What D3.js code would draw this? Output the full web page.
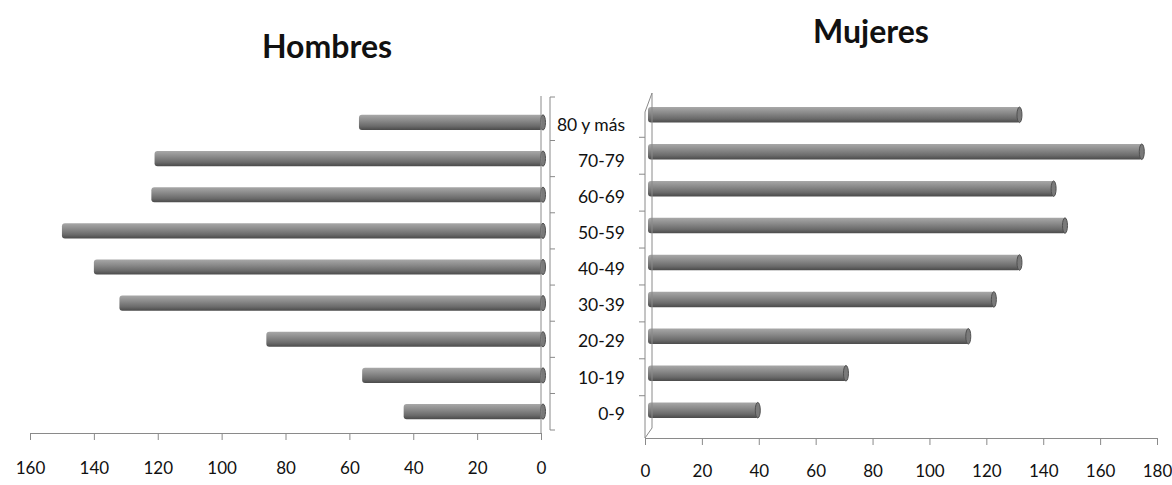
<!DOCTYPE html>
<html>
<head>
<meta charset="utf-8">
<script src="https://cdn.jsdelivr.net/npm/d3@7"></script>
<style>
  body { margin: 0; background: #fff; }
  svg { display: block; }
  text { font-family: Lato, "Open Sans", sans-serif; fill: #111; }
</style>
</head>
<body>
<svg width="1172" height="485"></svg>
<script>
var categories = ["80 y más", "70-79", "60-69", "50-59", "40-49", "30-39", "20-29", "10-19", "0-9"];
var hombres = [57, 121, 122, 150, 140, 132, 86, 56, 43];
var mujeres = [132, 175, 144, 148, 132, 123, 114, 71, 40];
var ticksLeft = [0, 20, 40, 60, 80, 100, 120, 140, 160];
var ticksRight = [0, 20, 40, 60, 80, 100, 120, 140, 160, 180];

var svg = d3.select("svg");

// cylinder-like shading
var grad = svg.append("defs").append("linearGradient")
    .attr("id", "cyl")
    .attr("x1", 0).attr("y1", 0).attr("x2", 0).attr("y2", 1);
grad.append("stop").attr("offset", "0%").attr("stop-color", "#a8a8a8");
grad.append("stop").attr("offset", "35%").attr("stop-color", "#8c8c8c");
grad.append("stop").attr("offset", "75%").attr("stop-color", "#6a6a6a");
grad.append("stop").attr("offset", "100%").attr("stop-color", "#4a4a4a");

var axisColor = "#8a8a8a";

// ---- Hombres (left) ----
var xL = d3.scaleLinear().domain([0, 160]).range([541, 30]);
var yL = d3.scaleBand().domain(categories).range([104, 430]).paddingInner(0.58).paddingOuter(0.3);

var left = svg.append("g");

left.selectAll("rect")
    .data(hombres)
    .enter().append("rect")
    .attr("x", function (d) { return xL(d); })
    .attr("y", function (d, i) { return yL(categories[i]); })
    .attr("width", function (d) { return xL(0) - xL(d) + 2; })
    .attr("height", yL.bandwidth())
    .attr("rx", 3)
    .attr("fill", "url(#cyl)");

left.selectAll("ellipse")
    .data(hombres)
    .enter().append("ellipse")
    .attr("cx", xL(0) + 2)
    .attr("cy", function (d, i) { return yL(categories[i]) + yL.bandwidth() / 2; })
    .attr("rx", 2.5)
    .attr("ry", yL.bandwidth() / 2)
    .attr("fill", "#7a7a7a")
    .attr("stroke", "#505050")
    .attr("stroke-width", 1);

var axL = d3.axisBottom(xL).tickValues(ticksLeft).tickSize(7).tickPadding(22);
left.append("g")
    .attr("transform", "translate(0,433)")
    .call(axL)
    .call(function (g) {
        g.select(".domain").attr("stroke", axisColor);
        g.selectAll(".tick line").attr("stroke", axisColor);
        g.selectAll(".tick text").style("font-size", "17px").attr("fill", "#111");
    });

left.append("line")
    .attr("x1", xL(0)).attr("x2", xL(0))
    .attr("y1", 96).attr("y2", 433)
    .attr("stroke", axisColor);

// category bracket with labels
var bracketX = 550;
var bracket = svg.append("g");
bracket.append("path")
    .attr("d", "M" + (bracketX + 5) + "," + 97 + "H" + bracketX + "V" + yL.range()[1] + "H" + (bracketX + 5))
    .attr("fill", "none")
    .attr("stroke", axisColor);
bracket.selectAll("line")
    .data(categories.slice(1))
    .enter().append("line")
    .attr("x1", bracketX).attr("x2", bracketX + 5)
    .attr("y1", function (d) { return yL(d) - yL.step() * yL.paddingInner() / 2; })
    .attr("y2", function (d) { return yL(d) - yL.step() * yL.paddingInner() / 2; })
    .attr("stroke", axisColor);

svg.append("g").selectAll("text")
    .data(categories)
    .enter().append("text")
    .attr("x", 625)
    .attr("y", function (d) { return yL(d) + yL.bandwidth() / 2 + 2; })
    .attr("dy", "0.35em")
    .attr("text-anchor", "end")
    .style("font-size", "17.5px")
    .text(function (d) { return d; });

// ---- Mujeres (right) ----
var xR = d3.scaleLinear().domain([0, 180]).range([645, 1157]);
var yR = d3.scaleBand().domain(categories).range([96, 429]).paddingInner(0.58).paddingOuter(0.3);

var right = svg.append("g");

right.selectAll("rect")
    .data(mujeres)
    .enter().append("rect")
    .attr("x", xR(0) + 3)
    .attr("y", function (d, i) { return yR(categories[i]); })
    .attr("width", function (d) { return xR(d) - xR(0) - 3; })
    .attr("height", yR.bandwidth())
    .attr("rx", 3)
    .attr("fill", "url(#cyl)");

right.selectAll("ellipse")
    .data(mujeres)
    .enter().append("ellipse")
    .attr("cx", function (d) { return xR(d) - 1; })
    .attr("cy", function (d, i) { return yR(categories[i]) + yR.bandwidth() / 2; })
    .attr("rx", 2.5)
    .attr("ry", yR.bandwidth() / 2)
    .attr("fill", "#7a7a7a")
    .attr("stroke", "#505050")
    .attr("stroke-width", 1);

var axR = d3.axisBottom(xR).tickValues(ticksRight).tickSize(7).tickPadding(20);
right.append("g")
    .attr("transform", "translate(0,438)")
    .call(axR)
    .call(function (g) {
        g.select(".domain").attr("stroke", axisColor);
        g.selectAll(".tick line").attr("stroke", axisColor);
        g.selectAll(".tick text").style("font-size", "17px").attr("fill", "#111");
    });

// 3D wall edge
right.append("path")
    .attr("d", "M645,438 L652,428 V93 L645,112 V438")
    .attr("fill", "none")
    .attr("stroke", axisColor);
right.selectAll("line.cat")
    .data(categories.slice(1))
    .enter().append("line")
    .attr("class", "cat")
    .attr("x1", 639).attr("x2", 645)
    .attr("y1", function (d) { return yR(d) - yR.step() * yR.paddingInner() / 2 + 4; })
    .attr("y2", function (d) { return yR(d) - yR.step() * yR.paddingInner() / 2 + 4; })
    .attr("stroke", axisColor);

// titles
svg.append("text")
    .attr("x", 327).attr("y", 58)
    .attr("text-anchor", "middle")
    .style("font-size", "32px").style("font-weight", "bold")
    .text("Hombres");
svg.append("text")
    .attr("x", 871).attr("y", 43)
    .attr("text-anchor", "middle")
    .style("font-size", "32px").style("font-weight", "bold")
    .text("Mujeres");
</script>
</body>
</html>
